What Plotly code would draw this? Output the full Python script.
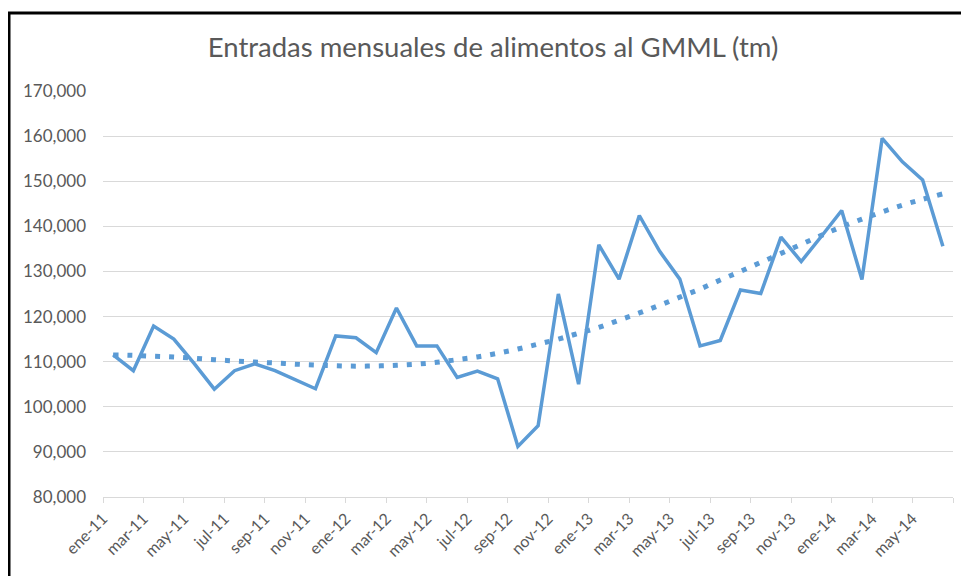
import plotly.graph_objects as go

# ---- data ----
months = ["ene", "feb", "mar", "abr", "may", "jun", "jul", "ago", "sep", "oct", "nov", "dic"]
years = ["11", "12", "13", "14"]
values = [
    111500, 108000, 117900, 115000, 109600, 103900, 108000, 109500, 108000, 106000, 104000, 115700,
    115300, 112000, 121900, 113500, 113500, 106500, 107900, 106200, 91200, 95800, 125000, 105000,
    135900, 128300, 142400, 134500, 128300, 113500, 114700, 125900, 125100, 137600, 132200, 137800,
    143500, 128200, 159500, 154300, 150300, 135600,
]
# polynomial trendline as drawn in the original chart (read month by month)
trend_values = [
    111500, 111400, 111200, 111050, 110750, 110450, 110150, 109900, 109700, 109450, 109250, 109100,
    109000, 109050, 109200, 109450, 109850, 110450, 111050, 111850, 112800, 113900, 115000, 116300,
    117600, 119200, 120800, 122500, 124300, 126100, 128100, 130000, 132000, 134000, 136000, 138000,
    139900, 141600, 143200, 144700, 146000, 147200,
]
tick_labels = ["ene-11", "mar-11", "may-11", "jul-11", "sep-11", "nov-11",
               "ene-12", "mar-12", "may-12", "jul-12", "sep-12", "nov-12",
               "ene-13", "mar-13", "may-13", "jul-13", "sep-13", "nov-13",
               "ene-14", "mar-14", "may-14", ""]
title_text = "Entradas mensuales de alimentos al GMML (tm)"

n = len(values)
x = list(range(n))
month_names = [f"{months[i % 12]}-{years[i // 12]}" for i in range(n)]

blue = "#5B9BD5"
grey_txt = "#595959"
grid = "#D9D9D9"
font = "Lato"

fig = go.Figure()
fig.add_trace(go.Scatter(x=x, y=trend_values, mode="lines",
                         line=dict(color=blue, width=5, dash="5px,9px", shape="spline"),
                         hoverinfo="skip", showlegend=False))
fig.add_trace(go.Scatter(x=x, y=values, mode="lines", text=month_names,
                         line=dict(color=blue, width=3.5),
                         showlegend=False))

# page body has an 8px margin, so the figure is offset by 8px
OFF = 8
W, H = 969 - OFF, 576 - OFF
L, T = 103 - OFF, 91 - OFF
R = W - (953 - OFF)
B = H - (497 - OFF)
pw, ph = W - L - R, H - T - B

fig.update_layout(
    width=W, height=H,
    margin=dict(l=L, r=R, t=T, b=B, pad=0),
    paper_bgcolor="white", plot_bgcolor="white",
    title=dict(text=title_text, x=(493 - OFF) / W, xref="container", xanchor="center",
               y=1 - (47 - OFF) / H, yref="container", yanchor="middle",
               font=dict(family=font, size=27.5, color=grey_txt)),
    font=dict(family=font, color=grey_txt),
    shapes=[dict(type="rect", xref="paper", yref="paper",
                 x0=(9 - OFF - L) / pw, x1=(W + 5 - L) / pw,
                 y0=(H - B - (H + 5)) / ph, y1=(H - B - (13 - OFF)) / ph,
                 line=dict(color="black", width=3), fillcolor="rgba(0,0,0,0)",
                 layer="above")],
)
fig.update_xaxes(
    range=[-0.5, n - 0.5],
    tickmode="array",
    tickvals=[v - 0.5 for v in range(0, n + 1, 2)],
    ticktext=tick_labels,
    tickangle=-45,
    ticks="outside", ticklen=5, tickcolor=grid, tickwidth=1,
    showline=True, linecolor=grid, linewidth=1,
    showgrid=False, zeroline=False,
    tickfont=dict(family=font, size=16, color=grey_txt),
    automargin=False,
)
fig.update_yaxes(
    range=[80000, 170000], dtick=10000, tickformat=",d",
    showgrid=True, gridcolor=grid, gridwidth=1,
    zeroline=False, showline=False, ticks="",
    ticklabelstandoff=16,
    tickfont=dict(family=font, size=17, color=grey_txt),
    automargin=False,
)

fig.write_html("out.html")
